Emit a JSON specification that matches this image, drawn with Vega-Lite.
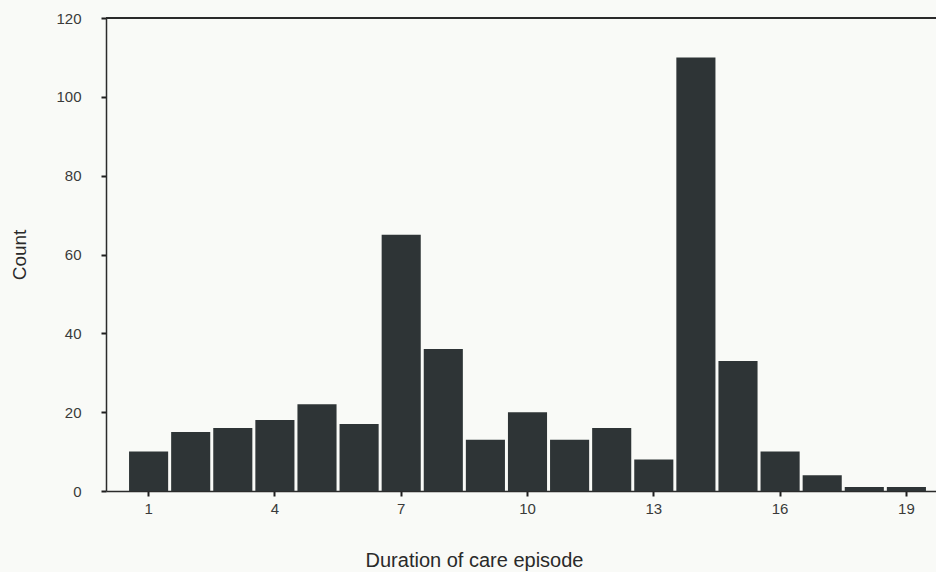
{
  "$schema": "https://vega.github.io/schema/vega-lite/v6.json",
  "width": 842,
  "height": 473,
  "autosize": {"type": "none"},
  "padding": {"left": 106, "top": 18, "right": 0, "bottom": 81},
  "background": "#f9faf7",
  "config": {
    "view": {"stroke": null},
    "font": "Liberation Sans",
    "axis": {
      "labelFont": "Liberation Sans",
      "titleFont": "Liberation Sans",
      "labelColor": "#3a3a3a",
      "titleColor": "#2a2a2a",
      "titleFontWeight": "normal",
      "domainColor": "#2b2b2b",
      "domainWidth": 1.5,
      "tickColor": "#1e1e1e",
      "tickWidth": 2,
      "tickSize": 5,
      "grid": false
    }
  },
  "data": {
    "values": [
      {"duration": 1, "bin_start": 0.5, "bin_end": 1.5, "count": 10},
      {"duration": 2, "bin_start": 1.5, "bin_end": 2.5, "count": 15},
      {"duration": 3, "bin_start": 2.5, "bin_end": 3.5, "count": 16},
      {"duration": 4, "bin_start": 3.5, "bin_end": 4.5, "count": 18},
      {"duration": 5, "bin_start": 4.5, "bin_end": 5.5, "count": 22},
      {"duration": 6, "bin_start": 5.5, "bin_end": 6.5, "count": 17},
      {"duration": 7, "bin_start": 6.5, "bin_end": 7.5, "count": 65},
      {"duration": 8, "bin_start": 7.5, "bin_end": 8.5, "count": 36},
      {"duration": 9, "bin_start": 8.5, "bin_end": 9.5, "count": 13},
      {"duration": 10, "bin_start": 9.5, "bin_end": 10.5, "count": 20},
      {"duration": 11, "bin_start": 10.5, "bin_end": 11.5, "count": 13},
      {"duration": 12, "bin_start": 11.5, "bin_end": 12.5, "count": 16},
      {"duration": 13, "bin_start": 12.5, "bin_end": 13.5, "count": 8},
      {"duration": 14, "bin_start": 13.5, "bin_end": 14.5, "count": 110},
      {"duration": 15, "bin_start": 14.5, "bin_end": 15.5, "count": 33},
      {"duration": 16, "bin_start": 15.5, "bin_end": 16.5, "count": 10},
      {"duration": 17, "bin_start": 16.5, "bin_end": 17.5, "count": 4},
      {"duration": 18, "bin_start": 17.5, "bin_end": 18.5, "count": 1},
      {"duration": 19, "bin_start": 18.5, "bin_end": 19.5, "count": 1}
    ]
  },
  "layer": [
    {
      "mark": {"type": "bar", "color": "#2e3436", "binSpacing": 3},
      "encoding": {
        "x": {
          "field": "bin_start",
          "type": "quantitative",
          "bin": {"binned": true},
          "scale": {"domain": [0, 20], "nice": false, "zero": false},
          "axis": {
            "values": [1, 4, 7, 10, 13, 16, 19],
            "title": "Duration of care episode",
            "titleFontSize": 20,
            "titleX": 368,
            "titlePadding": 34,
            "labelFontSize": 15,
            "labelPadding": 5,
            "labelFlush": false
          }
        },
        "x2": {"field": "bin_end"},
        "y": {
          "field": "count",
          "type": "quantitative",
          "scale": {"domain": [0, 120], "nice": false},
          "axis": {
            "values": [0, 20, 40, 60, 80, 100, 120],
            "title": "Count",
            "titleFontSize": 19,
            "titlePadding": 26,
            "labelFontSize": 15,
            "labelPadding": 20,
            "labelFlush": false
          }
        }
      }
    },
    {
      "mark": {"type": "rule", "color": "#2b2b2b", "strokeWidth": 1.5},
      "encoding": {"y": {"datum": 120}}
    }
  ]
}
